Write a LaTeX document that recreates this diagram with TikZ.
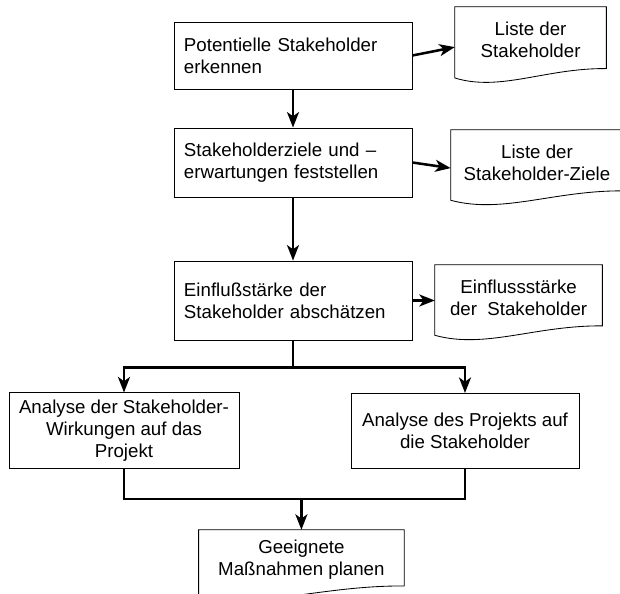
\documentclass[tikz,border=0pt]{standalone}
\usepackage{fontspec}
\setmainfont{Liberation Sans}
\usetikzlibrary{arrows.meta,calc}

\tikzstyle{block} = [rectangle, minimum width=5.95cm, text width=5.45cm,
inner xsep=0.25cm, align=left, draw=black, line width=0.6pt]
\tikzstyle{widebox} = [rectangle, minimum height=1.9cm, align=center,
draw=black, line width=0.6pt]
\tikzstyle{doc} = [rectangle, minimum height=1.625cm, align=center]
\tikzstyle{docline} = [line width=0.6pt]
\tikzstyle{arrow} = [line width=1.8pt,->,>={Stealth[length=11pt,width=8.5pt,inset=3pt]}]
\tikzstyle{link} = [line width=1.8pt]

% document outline with wavy bottom edge
\newcommand{\docframe}[1]{%
  \draw [docline] (#1.north west) -- (#1.north east) -- ([yshift=0.11cm]#1.south east)
    .. controls ($(#1.south west)!0.6!(#1.south east)+(0,0.125)$)
    and ($(#1.south west)!0.3!(#1.south east)+(0,-0.475)$)
    .. ([yshift=-0.125cm]#1.south west) -- cycle;}

\begin{document}
\begin{tikzpicture}[font=\fontsize{13.3}{15.6}\selectfont]
    \useasboundingbox (-7.325,1.3875) rectangle (8.175,-13.4625);
    % Main steps
    \node (pot) [block, minimum height=1.675cm] {Potentielle Stakeholder\\erkennen};
    \node (ziele) [block, minimum height=1.725cm, below of=pot, yshift=-1.675cm] {Stakeholderziele und –\\erwartungen feststellen};
    \node (einfl) [block, minimum height=1.975cm, below of=ziele, yshift=-2.45cm] {Einflußstärke der\\Stakeholder abschätzen};
    % Results
    \node (liste) [doc, minimum width=3.775cm, minimum height=1.64cm, right of=pot, xshift=4.94cm, yshift=0.39cm] {Liste der\\Stakeholder};
    \node (zielliste) [doc, minimum width=4.3cm, right of=ziele, xshift=5.1cm] {Liste der\\Stakeholder-Ziele};
    \node (staerke) [doc, minimum width=4.175cm, right of=einfl, xshift=4.64cm, yshift=0.075cm] {Einflussstärke\\der\ \ Stakeholder};
    \docframe{liste}
    \docframe{zielliste}
    \docframe{staerke}
    % Analysis
    \node (wirkung) [widebox, minimum width=5.75cm, below of=einfl, yshift=-2.26cm, xshift=-4.225cm] {Analyse der Stakeholder-\\Wirkungen auf das\\Projekt};
    \node (projekt) [widebox, minimum width=5.7cm, minimum height=1.875cm, below of=einfl, yshift=-2.26cm, xshift=4.3cm] {Analyse des Projekts auf\\die Stakeholder};
    \node (massn) [doc, minimum width=5.125cm, minimum height=1.5cm, below of=einfl, yshift=-5.49cm, xshift=0.21cm] {Geeignete\\Maßnahmen planen};
    \docframe{massn}
    \coordinate (split) at ([yshift=-0.675cm]einfl.south);
    \coordinate (merge) at ([yshift=0.775cm]massn.north);
    % Connections
    \draw [arrow] (pot) -- (ziele);
    \draw [arrow] (ziele) -- (einfl);
    \draw [arrow] (pot.east) -- ([yshift=-0.18cm]liste.west);
    \draw [arrow] (ziele.east) -- ([yshift=-0.14cm]zielliste.west);
    \draw [arrow] (einfl.east) -- (einfl.east -| staerke.west);
    \draw [arrow] (einfl.south) -- (split) -| (wirkung.north);
    \draw [arrow] (split) -| (projekt.north);
    \draw [link] (wirkung.south) |- (merge) -| (projekt.south);
    \draw [arrow] (merge) -- (massn);
\end{tikzpicture}
\end{document}
